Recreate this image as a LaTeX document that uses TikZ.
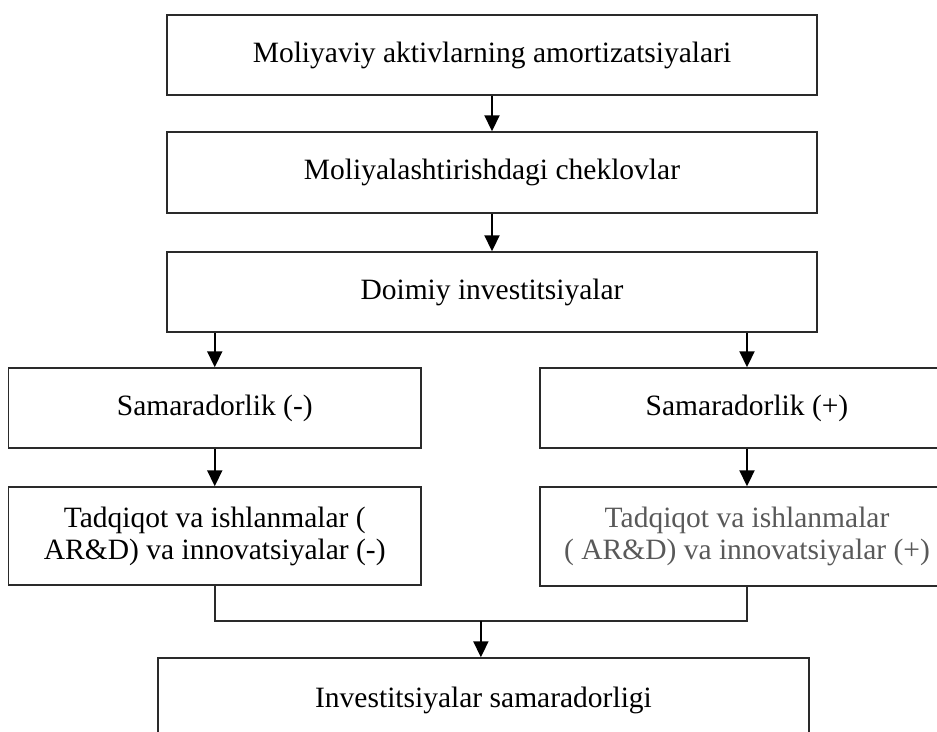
\documentclass[tikz,border=0pt]{standalone}
\usepackage{fontspec}
\setmainfont{Liberation Serif}
\usetikzlibrary{arrows.meta,calc}
\definecolor{boxline}{HTML}{2A2A2A}
\definecolor{graytext}{HTML}{595959}
\tikzset{
  box/.style={draw=boxline, line width=1.5pt, rectangle, inner sep=0pt, align=center,
    font=\fontsize{29.5}{32}\selectfont},
  arr/.style={line width=2.2pt, -{Triangle[length=16pt,width=15pt]}},
  link/.style={line width=1.6pt, draw=boxline}
}
\begin{document}
\begin{tikzpicture}[x=1pt,y=-1pt]
\useasboundingbox (0,0) rectangle (937,731);
\node[box, minimum width=650pt, minimum height=80pt] (b1) at (492,55) {Moliyaviy aktivlarning amortizatsiyalari};
\node[box, minimum width=650pt, minimum height=81pt] (b2) at (492,172.5) {Moliyalashtirishdagi cheklovlar};
\node[box, minimum width=650pt, minimum height=80pt] (b3) at (492,292) {Doimiy investitsiyalar};
\node[box, minimum width=412.5pt, minimum height=80pt] (sl) at (214.75,408) {Samaradorlik (-)};
\node[box, minimum width=414pt, minimum height=80pt] (sr) at (747,408) {Samaradorlik (+)};
\node[box, minimum width=412.5pt, minimum height=98pt] (tl) at (214.75,536) {Tadqiqot va ishlanmalar (\\AR\&D) va innovatsiyalar (-)};
\node[box, minimum width=414pt, minimum height=99pt, text=graytext] (tr) at (747,536.5) {Tadqiqot va ishlanmalar\\( AR\&D) va innovatsiyalar (+)};
\node[box, minimum width=651pt, minimum height=84pt] (bt) at (483.5,700) {Investitsiyalar samaradorligi};
\draw[arr] (b1) -- (b2);
\draw[arr] (b2) -- (b3);
\draw[arr] (b3.south -| sl.north) -- (sl.north);
\draw[arr] (b3.south -| sr.north) -- (sr.north);
\draw[arr] (sl) -- (tl);
\draw[arr] (sr) -- (tr);
\coordinate (jl) at ($(tl.south)+(0,35)$);
\draw[link] (tl.south) -- (jl) -| (tr.south);
\coordinate (j) at ($(jl)!0.5!(jl -| tr.south)$);
\draw[arr] (j) -- (j |- bt.north);
\end{tikzpicture}
\end{document}
